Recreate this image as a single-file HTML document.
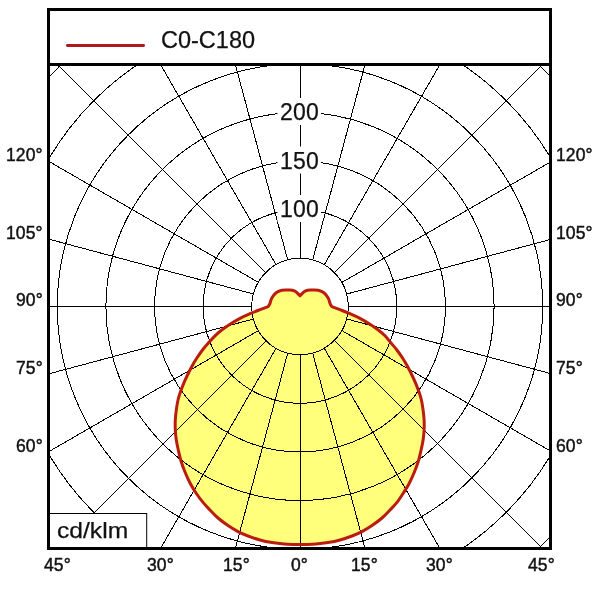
<!DOCTYPE html>
<html><head><meta charset="utf-8"><title>Polar diagram</title>
<style>
html,body{margin:0;padding:0;background:#fff;}
body{width:600px;height:600px;overflow:hidden;position:relative;font-family:"Liberation Sans",sans-serif;color:#111;}
svg{position:absolute;left:0;top:0;display:block}
.t{position:absolute;white-space:nowrap;line-height:1;will-change:transform;}
.s{font-size:17.5px;letter-spacing:0.1px;-webkit-text-stroke:0.45px #111;}
.b{font-size:23.5px;-webkit-text-stroke:0.25px #111;}
</style></head><body>
<svg width="600" height="600" viewBox="0 0 600 600">
<defs><clipPath id="cp"><rect x="50" y="66" width="499" height="481"/></clipPath></defs>
<rect x="0" y="0" width="600" height="600" fill="#fff"/>
<g clip-path="url(#cp)">
<path d="M300.00 295.80 C300.00 295.80 296.35 291.87 294.40 290.90 C292.45 289.93 290.42 290.10 288.30 290.00 C286.18 289.90 283.78 289.80 281.70 290.30 C279.62 290.80 277.47 291.67 275.80 293.00 C274.13 294.33 272.72 296.43 271.70 298.30 C270.68 300.17 270.32 302.80 269.70 304.20 C269.08 305.60 268.00 306.70 268.00 306.70 C268.00 306.70 263.00 308.53 260.00 309.70 C257.00 310.87 253.33 312.27 250.00 313.70 C246.67 315.13 243.33 316.55 240.00 318.30 C236.67 320.05 233.05 322.25 230.00 324.20 C226.95 326.15 224.20 328.07 221.70 330.00 C219.20 331.93 217.23 333.63 215.00 335.80 C212.77 337.97 210.38 340.63 208.30 343.00 C206.22 345.37 204.43 347.45 202.50 350.00 C200.57 352.55 198.50 355.52 196.70 358.30 C194.90 361.08 193.23 363.92 191.70 366.70 C190.17 369.48 188.83 372.23 187.50 375.00 C186.17 377.77 184.85 380.55 183.70 383.30 C182.55 386.05 181.55 388.72 180.60 391.50 C179.65 394.28 178.72 396.92 178.00 400.00 C177.28 403.08 176.75 406.67 176.30 410.00 C175.85 413.33 175.47 416.67 175.30 420.00 C175.13 423.33 175.13 426.67 175.30 430.00 C175.47 433.33 175.80 436.67 176.30 440.00 C176.80 443.33 177.52 446.50 178.30 450.00 C179.08 453.50 179.88 457.33 181.00 461.00 C182.12 464.67 183.50 468.33 185.00 472.00 C186.50 475.67 188.17 479.50 190.00 483.00 C191.83 486.50 193.83 489.77 196.00 493.00 C198.17 496.23 200.67 499.57 203.00 502.40 C205.33 505.23 207.50 507.40 210.00 510.00 C212.50 512.60 215.00 515.40 218.00 518.00 C221.00 520.60 224.67 523.33 228.00 525.60 C231.33 527.87 234.67 529.87 238.00 531.60 C241.33 533.33 244.33 534.60 248.00 536.00 C251.67 537.40 256.00 538.90 260.00 540.00 C264.00 541.10 268.00 541.93 272.00 542.60 C276.00 543.27 279.33 543.67 284.00 544.00 C288.67 544.33 294.67 544.60 300.00 544.60 C305.33 544.60 311.33 544.33 316.00 544.00 C320.67 543.67 324.00 543.27 328.00 542.60 C332.00 541.93 336.00 541.10 340.00 540.00 C344.00 538.90 348.33 537.40 352.00 536.00 C355.67 534.60 358.67 533.33 362.00 531.60 C365.33 529.87 368.67 527.87 372.00 525.60 C375.33 523.33 379.00 520.60 382.00 518.00 C385.00 515.40 387.50 512.60 390.00 510.00 C392.50 507.40 394.77 505.23 397.00 502.40 C399.23 499.57 401.33 496.23 403.40 493.00 C405.47 489.77 407.57 486.50 409.40 483.00 C411.23 479.50 412.90 475.67 414.40 472.00 C415.90 468.33 417.28 464.67 418.40 461.00 C419.52 457.33 420.32 453.50 421.10 450.00 C421.88 446.50 422.60 443.33 423.10 440.00 C423.60 436.67 423.93 433.33 424.10 430.00 C424.27 426.67 424.27 423.33 424.10 420.00 C423.93 416.67 423.55 413.33 423.10 410.00 C422.65 406.67 422.12 403.08 421.40 400.00 C420.68 396.92 419.75 394.28 418.80 391.50 C417.85 388.72 416.85 386.05 415.70 383.30 C414.55 380.55 413.23 377.77 411.90 375.00 C410.57 372.23 409.23 369.48 407.70 366.70 C406.17 363.92 404.50 361.08 402.70 358.30 C400.90 355.52 398.83 352.55 396.90 350.00 C394.97 347.45 393.08 345.37 391.10 343.00 C389.12 340.63 387.13 337.97 385.00 335.80 C382.87 333.63 380.80 331.93 378.30 330.00 C375.80 328.07 373.05 326.15 370.00 324.20 C366.95 322.25 363.33 320.05 360.00 318.30 C356.67 316.55 353.33 315.13 350.00 313.70 C346.67 312.27 343.00 310.87 340.00 309.70 C337.00 308.53 332.00 306.70 332.00 306.70 C332.00 306.70 330.92 305.60 330.30 304.20 C329.68 302.80 329.32 300.17 328.30 298.30 C327.28 296.43 325.87 294.33 324.20 293.00 C322.53 291.67 320.38 290.80 318.30 290.30 C316.22 289.80 313.82 289.90 311.70 290.00 C309.58 290.10 307.55 289.93 305.60 290.90 C303.65 291.87 300.00 295.80 300.00 295.80Z" fill="#ffff7c" stroke="none"/>
<g fill="none" stroke="#000" stroke-width="1" shape-rendering="crispEdges">
<circle cx="300" cy="306.5" r="48.225"/>
<circle cx="300" cy="306.5" r="96.85"/>
<circle cx="300" cy="306.5" r="145.475"/>
<circle cx="300" cy="306.5" r="194.1"/>
<circle cx="300" cy="306.5" r="242.725"/>
<circle cx="300" cy="306.5" r="291.35"/>
<circle cx="300" cy="306.5" r="339.975"/>
<circle cx="300" cy="306.5" r="388.6"/>
<circle cx="300" cy="306.5" r="437.225"/>
<circle cx="300" cy="306.5" r="485.85"/>
<circle cx="300" cy="306.5" r="534.475"/>
<circle cx="300" cy="306.5" r="583.1"/>
<circle cx="300" cy="306.5" r="631.725"/>
<circle cx="300" cy="306.5" r="680.35"/>
<circle cx="300" cy="306.5" r="728.975"/>
<line x1="300.50" y1="354.73" x2="300.50" y2="1106.50"/>
<line x1="312.68" y1="353.08" x2="507.26" y2="1079.24"/>
<line x1="324.31" y1="348.26" x2="700.20" y2="999.32"/>
<line x1="334.60" y1="340.60" x2="866.19" y2="872.19"/>
<line x1="341.96" y1="330.61" x2="993.02" y2="706.50"/>
<line x1="346.78" y1="318.98" x2="1072.94" y2="513.56"/>
<line x1="348.43" y1="306.50" x2="1100.20" y2="306.50"/>
<line x1="346.78" y1="294.02" x2="1072.94" y2="99.44"/>
<line x1="341.96" y1="282.39" x2="993.02" y2="-93.50"/>
<line x1="334.60" y1="272.40" x2="866.19" y2="-259.19"/>
<line x1="324.31" y1="264.74" x2="700.20" y2="-386.32"/>
<line x1="312.68" y1="259.92" x2="507.26" y2="-466.24"/>
<line x1="300.50" y1="258.27" x2="300.50" y2="-493.50"/>
<line x1="287.72" y1="259.92" x2="93.14" y2="-466.24"/>
<line x1="276.09" y1="264.74" x2="-99.80" y2="-386.32"/>
<line x1="265.40" y1="272.40" x2="-266.19" y2="-259.19"/>
<line x1="258.44" y1="282.39" x2="-392.62" y2="-93.50"/>
<line x1="253.62" y1="294.02" x2="-472.54" y2="99.44"/>
<line x1="251.97" y1="306.50" x2="-499.80" y2="306.50"/>
<line x1="253.62" y1="318.98" x2="-472.54" y2="513.56"/>
<line x1="258.44" y1="330.61" x2="-392.62" y2="706.50"/>
<line x1="266.40" y1="340.60" x2="-265.19" y2="872.19"/>
<line x1="276.09" y1="348.26" x2="-99.80" y2="999.32"/>
<line x1="287.72" y1="353.08" x2="93.14" y2="1079.24"/>
</g>
<path d="M300.00 295.80 C300.00 295.80 296.35 291.87 294.40 290.90 C292.45 289.93 290.42 290.10 288.30 290.00 C286.18 289.90 283.78 289.80 281.70 290.30 C279.62 290.80 277.47 291.67 275.80 293.00 C274.13 294.33 272.72 296.43 271.70 298.30 C270.68 300.17 270.32 302.80 269.70 304.20 C269.08 305.60 268.00 306.70 268.00 306.70 C268.00 306.70 263.00 308.53 260.00 309.70 C257.00 310.87 253.33 312.27 250.00 313.70 C246.67 315.13 243.33 316.55 240.00 318.30 C236.67 320.05 233.05 322.25 230.00 324.20 C226.95 326.15 224.20 328.07 221.70 330.00 C219.20 331.93 217.23 333.63 215.00 335.80 C212.77 337.97 210.38 340.63 208.30 343.00 C206.22 345.37 204.43 347.45 202.50 350.00 C200.57 352.55 198.50 355.52 196.70 358.30 C194.90 361.08 193.23 363.92 191.70 366.70 C190.17 369.48 188.83 372.23 187.50 375.00 C186.17 377.77 184.85 380.55 183.70 383.30 C182.55 386.05 181.55 388.72 180.60 391.50 C179.65 394.28 178.72 396.92 178.00 400.00 C177.28 403.08 176.75 406.67 176.30 410.00 C175.85 413.33 175.47 416.67 175.30 420.00 C175.13 423.33 175.13 426.67 175.30 430.00 C175.47 433.33 175.80 436.67 176.30 440.00 C176.80 443.33 177.52 446.50 178.30 450.00 C179.08 453.50 179.88 457.33 181.00 461.00 C182.12 464.67 183.50 468.33 185.00 472.00 C186.50 475.67 188.17 479.50 190.00 483.00 C191.83 486.50 193.83 489.77 196.00 493.00 C198.17 496.23 200.67 499.57 203.00 502.40 C205.33 505.23 207.50 507.40 210.00 510.00 C212.50 512.60 215.00 515.40 218.00 518.00 C221.00 520.60 224.67 523.33 228.00 525.60 C231.33 527.87 234.67 529.87 238.00 531.60 C241.33 533.33 244.33 534.60 248.00 536.00 C251.67 537.40 256.00 538.90 260.00 540.00 C264.00 541.10 268.00 541.93 272.00 542.60 C276.00 543.27 279.33 543.67 284.00 544.00 C288.67 544.33 294.67 544.60 300.00 544.60 C305.33 544.60 311.33 544.33 316.00 544.00 C320.67 543.67 324.00 543.27 328.00 542.60 C332.00 541.93 336.00 541.10 340.00 540.00 C344.00 538.90 348.33 537.40 352.00 536.00 C355.67 534.60 358.67 533.33 362.00 531.60 C365.33 529.87 368.67 527.87 372.00 525.60 C375.33 523.33 379.00 520.60 382.00 518.00 C385.00 515.40 387.50 512.60 390.00 510.00 C392.50 507.40 394.77 505.23 397.00 502.40 C399.23 499.57 401.33 496.23 403.40 493.00 C405.47 489.77 407.57 486.50 409.40 483.00 C411.23 479.50 412.90 475.67 414.40 472.00 C415.90 468.33 417.28 464.67 418.40 461.00 C419.52 457.33 420.32 453.50 421.10 450.00 C421.88 446.50 422.60 443.33 423.10 440.00 C423.60 436.67 423.93 433.33 424.10 430.00 C424.27 426.67 424.27 423.33 424.10 420.00 C423.93 416.67 423.55 413.33 423.10 410.00 C422.65 406.67 422.12 403.08 421.40 400.00 C420.68 396.92 419.75 394.28 418.80 391.50 C417.85 388.72 416.85 386.05 415.70 383.30 C414.55 380.55 413.23 377.77 411.90 375.00 C410.57 372.23 409.23 369.48 407.70 366.70 C406.17 363.92 404.50 361.08 402.70 358.30 C400.90 355.52 398.83 352.55 396.90 350.00 C394.97 347.45 393.08 345.37 391.10 343.00 C389.12 340.63 387.13 337.97 385.00 335.80 C382.87 333.63 380.80 331.93 378.30 330.00 C375.80 328.07 373.05 326.15 370.00 324.20 C366.95 322.25 363.33 320.05 360.00 318.30 C356.67 316.55 353.33 315.13 350.00 313.70 C346.67 312.27 343.00 310.87 340.00 309.70 C337.00 308.53 332.00 306.70 332.00 306.70 C332.00 306.70 330.92 305.60 330.30 304.20 C329.68 302.80 329.32 300.17 328.30 298.30 C327.28 296.43 325.87 294.33 324.20 293.00 C322.53 291.67 320.38 290.80 318.30 290.30 C316.22 289.80 313.82 289.90 311.70 290.00 C309.58 290.10 307.55 289.93 305.60 290.90 C303.65 291.87 300.00 295.80 300.00 295.80Z" fill="none" stroke="#bb1c10" stroke-width="3" stroke-linejoin="round"/>
<rect x="277.5" y="98" width="43.5" height="27" fill="#fff"/>
<rect x="277.5" y="146.5" width="43.5" height="27" fill="#fff"/>
<rect x="277.5" y="195" width="43.5" height="27" fill="#fff"/>
<rect x="49" y="513.5" width="97.7" height="40" fill="#fff" stroke="#000" stroke-width="1"/>
</g>
<rect x="48.5" y="9.5" width="502" height="539" fill="none" stroke="#000" stroke-width="3"/>
<line x1="47" y1="64.5" x2="552" y2="64.5" stroke="#000" stroke-width="3"/>
<line x1="67.4" y1="45.5" x2="143.6" y2="45.5" stroke="#ae1a1c" stroke-width="2.8" stroke-linecap="round"/>
</svg>
<div class="t b" id="leg" style="left:161px;top:29px;">C0-C180</div>
<div class="t b" id="v200" style="left:280.3px;top:101.2px;font-size:23px;letter-spacing:0.2px">200</div>
<div class="t b" id="v150" style="left:280.3px;top:149.7px;font-size:23px;letter-spacing:0.2px">150</div>
<div class="t b" id="v100" style="left:280.3px;top:198.2px;font-size:23px;letter-spacing:0.2px">100</div>
<div class="t b" id="unit" style="left:57px;top:519.8px;font-size:22.6px;transform:scaleX(1.09);transform-origin:0 0;">cd/klm</div>

<div class="t s" id="l120" style="right:557.7px;top:146.8px;">120°</div>
<div class="t s" id="l105" style="right:557.7px;top:224.8px;">105°</div>
<div class="t s" id="l90" style="right:557.7px;top:291.8px;">90°</div>
<div class="t s" id="l75" style="right:557.7px;top:359.8px;">75°</div>
<div class="t s" id="l60" style="right:557.7px;top:437.8px;">60°</div>

<div class="t s" id="r120" style="left:556px;top:146.8px;">120°</div>
<div class="t s" id="r105" style="left:556px;top:224.8px;">105°</div>
<div class="t s" id="r90" style="left:556px;top:291.8px;">90°</div>
<div class="t s" id="r75" style="left:556px;top:359.8px;">75°</div>
<div class="t s" id="r60" style="left:556px;top:437.8px;">60°</div>

<div class="t s" id="b45l" style="left:44px;top:556.8px;">45°</div>
<div class="t s" id="b30l" style="left:146.5px;top:556.8px;">30°</div>
<div class="t s" id="b15l" style="left:222.5px;top:556.8px;">15°</div>
<div class="t s" id="b0" style="left:290.8px;top:556.8px;">0°</div>
<div class="t s" id="b15r" style="left:351px;top:556.8px;">15°</div>
<div class="t s" id="b30r" style="left:425.7px;top:556.8px;">30°</div>
<div class="t s" id="b45r" style="left:527.6px;top:556.8px;">45°</div>
</body></html>
